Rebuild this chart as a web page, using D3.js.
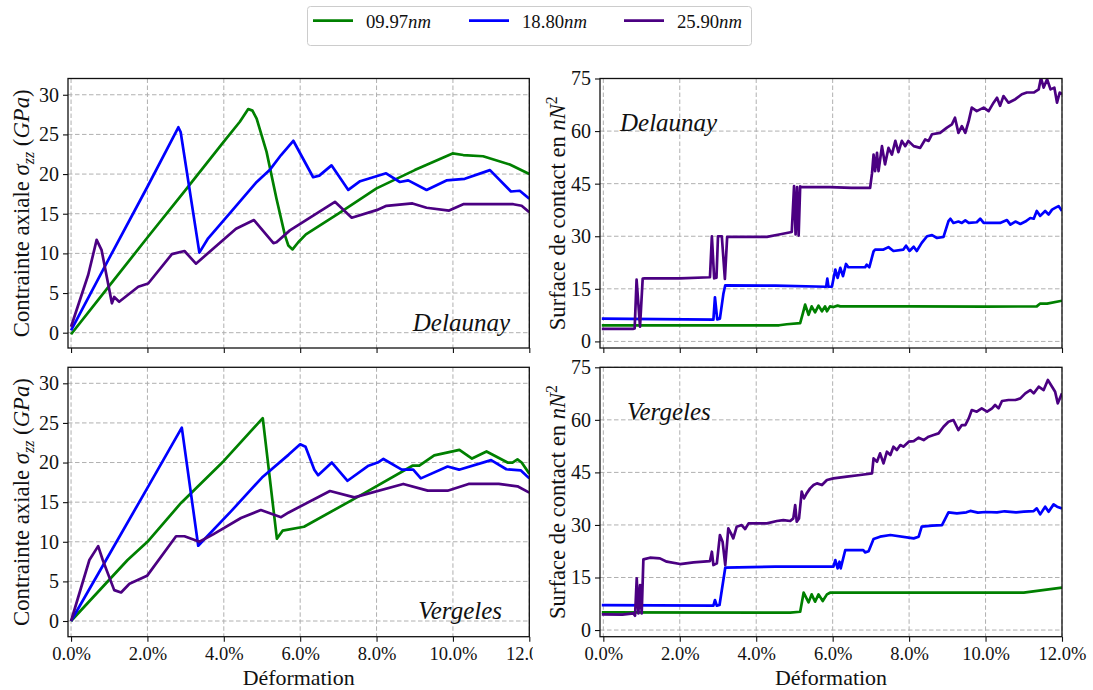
<!DOCTYPE html>
<html>
<head>
<meta charset="utf-8">
<script src="https://cdn.jsdelivr.net/npm/d3@7"></script>
<style>
  html, body { margin: 0; padding: 0; background: #fff; }
  svg { display: block; font-family: "Liberation Serif", "DejaVu Serif", serif; }
</style>
</head>
<body>
<svg id="chart" width="1093" height="690"></svg>
<script>
// ---------------- DATA (x in % deformation) ----------------
const seriesNames = ["09.97", "18.80", "25.90"];
const seriesColors = ["#008000", "#0000ff", "#4b0082"];
const xTicks = [0, 2, 4, 6, 8, 10, 12];
const stressTicks = [0, 5, 10, 15, 20, 25, 30];
const areaTicks = [0, 15, 30, 45, 60, 75];

// Delaunay — axial stress (GPa)
const delaunayStress0997 = [[0,-0.2],[1.0,5.9],[2.0,12.0],[3.0,18.0],[4.0,24.1],[4.42,26.6],[4.64,28.2],[4.75,28.0],[4.86,27.0],[5.12,22.8],[5.38,16.9],[5.6,12.3],[5.69,11.0],[5.8,10.5],[5.95,11.4],[6.15,12.4],[7.0,15.0],[8.0,18.2],[9.0,20.5],[9.99,22.6],[10.27,22.4],[10.79,22.25],[11.49,21.2],[12.0,20.0]];
const delaunayStress1880 = [[0,0.3],[1.0,9.4],[2.0,18.4],[2.81,25.9],[2.87,25.3],[3.36,10.1],[3.59,11.9],[4.2,15.3],[4.84,18.9],[5.2,20.5],[5.5,22.4],[5.82,24.2],[6.34,19.6],[6.5,19.8],[6.82,21.1],[7.26,18.0],[7.57,19.1],[8.25,20.1],[8.61,19.0],[8.83,19.2],[9.31,18.0],[9.83,19.2],[10.31,19.4],[10.97,20.5],[11.52,17.8],[11.75,17.9],[12.0,16.9]];
const delaunayStress2590 = [[0,0.75],[0.45,7.3],[0.67,11.7],[0.80,10.4],[1.07,3.7],[1.13,4.5],[1.26,3.9],[1.76,5.8],[2.02,6.2],[2.64,9.9],[2.97,10.3],[3.27,8.7],[4.32,13.1],[4.79,14.2],[5.3,11.3],[5.38,11.4],[5.73,12.9],[6.91,16.5],[7.35,14.5],[8.0,15.45],[8.26,16.0],[8.94,16.3],[9.31,15.75],[9.9,15.4],[10.27,16.2],[11.58,16.2],[11.8,16.0],[12.0,15.2]];

// Vergeles — axial stress (GPa)
const vergelesStress0997 = [[0,0],[1.48,7.7],[2.0,10.0],[2.88,14.9],[4.0,20.2],[5.02,25.6],[5.39,10.4],[5.54,11.4],[6.1,11.9],[7.52,15.7],[8.94,19.6],[9.12,19.6],[9.51,20.9],[10.17,21.6],[10.5,20.5],[10.88,21.4],[11.43,20.0],[11.56,20.0],[11.69,20.4],[11.8,20.0],[12.0,18.6]];
const vergelesStress1880 = [[0,0],[1.0,8.4],[2.0,16.8],[2.9,24.4],[3.33,9.5],[4.2,13.9],[5.0,18.1],[5.7,21.0],[6.0,22.3],[6.14,22.0],[6.37,19.1],[6.47,18.4],[6.83,20.0],[7.24,17.7],[7.79,19.6],[8.03,20.0],[8.18,20.45],[8.66,19.1],[8.96,19.1],[9.16,18.0],[9.86,19.5],[10.16,19.1],[11.0,20.3],[11.4,19.15],[11.78,19.0],[12.0,18.0]];
const vergelesStress2590 = [[0,0],[0.48,7.7],[0.71,9.45],[0.83,7.7],[1.13,3.9],[1.31,3.6],[1.53,4.7],[1.99,5.7],[2.75,10.7],[2.97,10.7],[3.36,10.0],[3.71,10.9],[4.45,13.0],[4.97,14.0],[5.5,13.1],[5.7,13.7],[6.78,16.4],[7.42,15.6],[8.7,17.3],[9.34,16.45],[9.86,16.45],[10.41,17.3],[11.2,17.3],[11.69,17.0],[12.0,16.2]];

// Delaunay — contact surface (nN^2)
const delaunayArea0997 = [[-0.04,4.55],[2.0,4.55],[4.6,4.6],[4.8,4.9],[5.15,5.2],[5.22,8.0],[5.28,10.5],[5.37,7.6],[5.45,10.0],[5.54,8.3],[5.63,10.2],[5.72,8.6],[5.8,10.0],[5.85,8.6],[5.93,10.0],[6.02,9.8],[6.13,10.2],[6.2,10.0],[8.0,10.0],[10.0,9.9],[11.34,10.0],[11.43,10.8],[11.61,10.8],[12.0,11.6]];
const delaunayArea1880 = [[-0.04,6.5],[2.88,6.2],[2.92,12.6],[2.98,6.3],[3.05,6.5],[3.14,13.5],[3.19,16.0],[4.5,15.9],[5.83,15.6],[5.86,17.9],[5.89,15.6],[5.98,15.6],[6.07,20.5],[6.13,18.1],[6.2,21.0],[6.27,18.6],[6.35,22.1],[6.41,21.15],[6.85,21.15],[6.89,21.9],[6.96,21.15],[7.07,25.7],[7.11,26.2],[7.33,26.2],[7.46,26.9],[7.59,25.8],[7.85,26.2],[7.92,27.3],[8.01,25.8],[8.12,27.0],[8.2,25.8],[8.33,28.1],[8.47,30.0],[8.6,30.3],[8.73,29.5],[8.9,29.8],[9.03,34.3],[9.08,35.0],[9.16,33.8],[9.29,34.2],[9.38,33.8],[9.47,34.5],[9.56,33.8],[9.77,34.0],[9.86,35.0],[9.95,33.8],[10.17,33.8],[10.38,33.8],[10.56,34.6],[10.65,33.3],[10.78,34.2],[10.91,33.5],[11.04,34.2],[11.17,35.2],[11.26,35.0],[11.34,37.2],[11.43,35.8],[11.56,37.2],[11.65,36.2],[11.74,37.6],[11.82,38.1],[11.91,38.6],[12.0,37.2]];
const delaunayArea2590 = [[-0.04,3.6],[0.79,3.6],[0.82,3.7],[0.87,17.6],[0.96,4.2],[1.03,17.9],[1.08,18.0],[2.0,18.0],[2.79,18.3],[2.84,30.0],[2.9,18.0],[2.96,18.2],[3.0,30.0],[3.1,30.0],[3.18,17.8],[3.24,29.8],[3.6,29.8],[4.28,29.8],[4.6,30.5],[4.93,31.2],[4.99,44.3],[5.03,30.5],[5.07,44.0],[5.11,30.2],[5.15,44.2],[5.2,44.0],[5.93,44.0],[6.5,43.8],[6.98,43.8],[7.03,48.0],[7.07,53.3],[7.11,48.6],[7.16,53.8],[7.2,48.6],[7.29,55.7],[7.37,50.5],[7.46,55.2],[7.55,53.3],[7.64,57.2],[7.72,54.0],[7.81,57.2],[7.9,55.7],[7.98,57.2],[8.12,55.7],[8.29,55.2],[8.42,57.6],[8.51,57.2],[8.6,59.1],[8.81,59.5],[8.99,61.0],[9.12,61.9],[9.2,63.8],[9.29,59.5],[9.38,61.4],[9.47,59.5],[9.56,62.9],[9.64,66.7],[9.77,65.7],[9.95,66.7],[10.08,65.7],[10.21,68.1],[10.3,69.5],[10.38,67.2],[10.47,70.0],[10.6,68.1],[10.78,69.1],[10.95,70.5],[11.08,71.0],[11.26,71.0],[11.39,71.9],[11.45,75.2],[11.52,72.4],[11.61,74.8],[11.7,71.9],[11.8,72.4],[11.87,68.1],[11.94,71.0],[12.0,70.5]];

// Vergeles — contact surface (nN^2)
const vergelesArea0997 = [[-0.04,5.04],[4.89,4.95],[5.15,5.23],[5.24,10.66],[5.37,7.9],[5.45,10.18],[5.54,8.09],[5.63,10.18],[5.74,8.28],[5.85,10.18],[5.93,10.66],[8.0,10.66],[11.0,10.66],[12.0,12.09]];
const vergelesArea1880 = [[-0.04,7.14],[2.88,6.95],[2.92,8.56],[2.97,6.95],[3.04,7.14],[3.19,17.8],[4.5,18.08],[6.02,18.08],[6.07,19.98],[6.13,17.6],[6.18,19.5],[6.21,17.6],[6.33,22.84],[6.8,22.84],[6.85,22.17],[6.94,22.5],[7.07,25.98],[7.24,26.65],[7.51,27.12],[8.12,26.17],[8.25,26.65],[8.33,29.5],[8.6,29.79],[8.86,29.97],[9.03,33.59],[9.25,33.3],[9.5,33.6],[9.6,34.0],[9.8,33.5],[10.0,33.7],[10.3,33.6],[10.5,33.9],[10.8,33.6],[11.0,33.8],[11.26,33.97],[11.34,34.73],[11.43,33.02],[11.56,35.21],[11.65,33.78],[11.78,35.87],[11.87,35.21],[12.0,34.73]];
const vergelesArea2590 = [[-0.04,4.47],[0.5,4.4],[0.786,4.76],[0.83,4.09],[0.874,14.75],[0.917,4.76],[0.961,12.85],[1.004,4.76],[1.048,20.17],[1.22,20.65],[1.48,20.46],[1.66,19.51],[2.01,18.84],[2.36,19.32],[2.79,19.7],[2.84,22.36],[2.88,18.56],[2.97,19.03],[3.05,27.12],[3.12,25.22],[3.19,18.56],[3.27,29.02],[3.34,27.6],[3.4,26.17],[3.49,29.5],[3.62,29.97],[3.71,28.83],[3.8,30.45],[4.01,30.45],[4.28,30.45],[4.54,31.12],[4.71,31.4],[4.89,31.12],[4.97,31.88],[5.02,35.68],[5.06,30.93],[5.12,31.88],[5.19,39.49],[5.25,37.59],[5.32,39.01],[5.41,40.44],[5.5,41.39],[5.59,41.87],[5.72,41.39],[5.85,42.82],[6.02,43.3],[6.37,43.77],[6.72,44.25],[7.03,44.72],[7.07,49.0],[7.16,48.05],[7.24,50.43],[7.33,47.58],[7.42,50.91],[7.51,49.96],[7.59,52.34],[7.68,51.38],[7.77,52.81],[7.85,52.34],[7.99,53.76],[8.12,53.95],[8.25,54.9],[8.38,54.24],[8.51,55.19],[8.64,55.67],[8.77,56.14],[8.9,58.05],[9.03,59.47],[9.16,59.95],[9.29,57.09],[9.38,58.52],[9.47,58.52],[9.56,60.42],[9.64,62.8],[9.77,62.33],[9.9,63.28],[10.04,62.33],[10.17,63.28],[10.25,64.23],[10.34,63.28],[10.43,65.37],[10.6,65.66],[10.78,65.66],[10.91,66.13],[11.04,67.56],[11.17,68.51],[11.26,67.56],[11.39,69.46],[11.52,68.51],[11.63,71.37],[11.74,69.46],[11.82,68.04],[11.89,64.71],[12.0,67.56]];

// ---------------- LAYOUT ----------------
const svg = d3.select("#chart");
const panels = [
  { id: "tl", x0: 68, x1: 529.3, y0: 78.5, y1: 348, xdom: [-0.08, 12], ydom: [-1.93, 32.05], yticks: stressTicks,
    series: [delaunayStress0997, delaunayStress1880, delaunayStress2590], xLabels: false, kind: "stress",
    title: "Delaunay", tx: 510, ty: 331, anchor: "end", clipRight: 533 },
  { id: "tr", x0: 600, x1: 1062, y0: 78.5, y1: 348, xdom: [-0.087, 12], ydom: [-1.88, 75], yticks: areaTicks,
    series: [delaunayArea0997, delaunayArea1880, delaunayArea2590], xLabels: false, kind: "area",
    title: "Delaunay", tx: 620, ty: 131, anchor: "start", clipRight: 1093 },
  { id: "bl", x0: 68, x1: 529.3, y0: 367.3, y1: 636.7, xdom: [-0.08, 12], ydom: [-1.98, 32.02], yticks: stressTicks,
    series: [vergelesStress0997, vergelesStress1880, vergelesStress2590], xLabels: true, kind: "stress",
    title: "Vergeles", tx: 502, ty: 619, anchor: "end", clipRight: 533 },
  { id: "br", x0: 600, x1: 1062, y0: 367.3, y1: 636.7, xdom: [-0.087, 12], ydom: [-1.9, 75], yticks: areaTicks,
    series: [vergelesArea0997, vergelesArea1880, vergelesArea2590], xLabels: true, kind: "area",
    title: "Vergeles", tx: 627, ty: 420, anchor: "start", clipRight: 1093 }
];

function fitWidth(textSel, target) {
  const node = textSel.node();
  const fs = parseFloat(textSel.attr("font-size"));
  const w = node.getComputedTextLength();
  if (w > 0) textSel.attr("font-size", (fs * target / w).toFixed(2));
}

const defs = svg.append("defs");

panels.forEach(p => {
  const x = d3.scaleLinear().domain(p.xdom).range([p.x0, p.x1]);
  const y = d3.scaleLinear().domain(p.ydom).range([p.y1, p.y0]);
  const g = svg.append("g").attr("class", "panel-" + p.id);

  // grid
  g.append("g").selectAll("line.vx").data(xTicks).join("line")
    .attr("x1", d => x(d)).attr("x2", d => x(d)).attr("y1", p.y0).attr("y2", p.y1)
    .attr("stroke", "#b0b0b0").attr("stroke-width", 1).attr("stroke-dasharray", "4.5,2.5");
  g.append("g").selectAll("line.hy").data(p.yticks).join("line")
    .attr("x1", p.x0).attr("x2", p.x1).attr("y1", d => y(d)).attr("y2", d => y(d))
    .attr("stroke", "#b0b0b0").attr("stroke-width", 1).attr("stroke-dasharray", "4.5,2.5");

  // clips
  defs.append("clipPath").attr("id", "clip-" + p.id).append("rect")
    .attr("x", p.x0).attr("y", p.y0).attr("width", p.x1 - p.x0).attr("height", p.y1 - p.y0);
  defs.append("clipPath").attr("id", "fig-" + p.id).append("rect")
    .attr("x", 0).attr("y", 0).attr("width", p.clipRight).attr("height", 690);

  const line = d3.line().x(d => x(d[0])).y(d => y(d[1]));
  const lg = g.append("g").attr("clip-path", "url(#clip-" + p.id + ")");
  p.series.forEach((s, i) => {
    lg.append("path").datum(s).attr("d", line)
      .attr("fill", "none").attr("stroke", seriesColors[i]).attr("stroke-width", 2.7)
      .attr("stroke-linejoin", "round").attr("stroke-linecap", "butt");
  });

  // axes
  const xAxis = d3.axisBottom(x).tickValues(xTicks).tickSize(5).tickPadding(4)
    .tickFormat(p.xLabels ? (d => d.toFixed(1) + "%") : () => "");
  const xa = g.append("g").attr("transform", `translate(0,${p.y1})`)
    .attr("clip-path", "url(#fig-" + p.id + ")").call(xAxis);
  xa.select(".domain").remove();
  xa.selectAll("text").attr("font-size", 18.5).attr("font-family", "Liberation Serif").attr("fill", "#111")
    .attr("dy", "0.8em");
  const yAxis = d3.axisLeft(y).tickValues(p.yticks).tickSize(5).tickPadding(4).tickFormat(d3.format("d"));
  const ya = g.append("g").attr("transform", `translate(${p.x0},0)`).call(yAxis);
  ya.select(".domain").remove();
  ya.selectAll("text").attr("font-size", 20).attr("font-family", "Liberation Serif").attr("fill", "#111");
  g.selectAll(".tick line").attr("stroke", "#111").attr("stroke-width", 1.1);

  // frame
  g.append("rect").attr("x", p.x0).attr("y", p.y0).attr("width", p.x1 - p.x0).attr("height", p.y1 - p.y0)
    .attr("fill", "none").attr("stroke", "#111").attr("stroke-width", 1.3);

  // title
  g.append("text").attr("x", p.tx).attr("y", p.ty).attr("text-anchor", p.anchor)
    .attr("font-size", 25).attr("font-style", "italic").attr("fill", "#111").text(p.title);

  // y label
  const cy = (p.y0 + p.y1) / 2;
  if (p.kind === "stress") {
    const t = g.append("text").attr("transform", `translate(29,${cy}) rotate(-90)`)
      .attr("text-anchor", "middle").attr("font-size", 21).attr("fill", "#111");
    t.append("tspan").text("Contrainte axiale ");
    t.append("tspan").attr("font-style", "italic").text("σ");
    t.append("tspan").attr("font-style", "italic").attr("font-size", "70%").attr("dy", "0.3em").text("zz");
    t.append("tspan").attr("dy", "-0.21em").text(" (");
    t.append("tspan").attr("font-style", "italic").text("GPa");
    t.append("tspan").text(")");
    fitWidth(t, 248);
  } else {
    const t = g.append("text").attr("transform", `translate(565,${cy}) rotate(-90)`)
      .attr("text-anchor", "middle").attr("font-size", 21).attr("fill", "#111");
    t.append("tspan").text("Surface de contact en ");
    t.append("tspan").attr("font-style", "italic").text("nN");
    t.append("tspan").attr("font-size", "70%").attr("dy", "-0.5em").text("2");
    fitWidth(t, 234);
  }

  // x label
  if (p.xLabels) {
    const t = g.append("text").attr("x", (p.x0 + p.x1) / 2).attr("y", 685).attr("text-anchor", "middle")
      .attr("font-size", 21).attr("fill", "#111").text("Déformation");
    fitWidth(t, 112);
  }
});

// ---------------- LEGEND ----------------
const legend = svg.append("g").attr("class", "legend");
legend.append("rect").attr("x", 307.5).attr("y", 6.5).attr("width", 444).attr("height", 39).attr("rx", 3)
  .attr("fill", "#fff").attr("stroke", "#cccccc").attr("stroke-width", 1);
const legendX = [313, 469, 624];
seriesNames.forEach((name, i) => {
  const lx = legendX[i];
  legend.append("line").attr("x1", lx).attr("x2", lx + 40).attr("y1", 20.7).attr("y2", 20.7)
    .attr("stroke", seriesColors[i]).attr("stroke-width", 2.7);
  const t = legend.append("text").attr("x", lx + 53).attr("y", 27.5).attr("font-size", 18.5).attr("fill", "#111");
  t.append("tspan").text(name);
  t.append("tspan").attr("font-style", "italic").text("nm");
  fitWidth(t, 65);
});
</script>
</body>
</html>
